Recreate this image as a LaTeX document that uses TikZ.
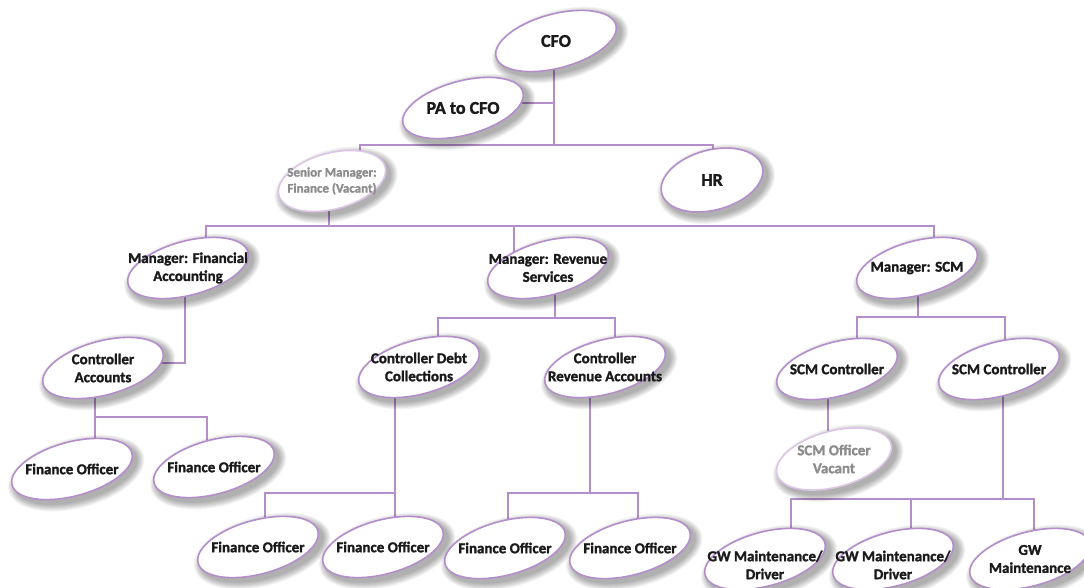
\documentclass[tikz,border=0pt]{standalone}
\usepackage{fontspec}
\setmainfont{Carlito}[BoldFeatures={FakeBold=1.6}]
\usetikzlibrary{calc}
\pgfdeclarelayer{background}
\pgfsetlayers{background,main}
\definecolor{lilac}{HTML}{B48ECB}
\definecolor{palelilac}{HTML}{DCC6E6}
\definecolor{ink}{HTML}{1A1A1A}
\definecolor{vacantink}{HTML}{8C8C8C}
\tikzset{
  link/.style={draw=lilac, line width=1.8pt},
  glow/.style={fill=black, fill opacity=0.045},
  filled ring/.style={draw=lilac, line width=1.6pt, fill=white},
  vacant ring/.style={filled ring, draw=palelilac},
  filled text/.style={text=ink, font=\bfseries\fontsize{15}{18}\selectfont, align=center, inner sep=0pt},
  vacant text/.style={filled text, text=vacantink},
  big/.style={font=\bfseries\fontsize{18}{21}\selectfont},
  small/.style={font=\bfseries\fontsize{13}{16}\selectfont},
}
% #1 extra text options, #2 name, #3 x, #4 y, #5 semi-major, #6 semi-minor, #7 kind, #8 text
\newcommand\orgnode[8][]{%
  \begin{scope}[shift={(#3,#4)}]
    % soft drop shadow, built from stacked translucent ellipses
    \foreach \g in {0,1,...,7}{
      \path[glow, rotate=15] (3,5) ellipse [x radius=#5+8-\g, y radius=#6+8-\g];
    }
    \path[#7 ring, rotate=15] (0,0) ellipse [x radius=#5, y radius=#6];
  \end{scope}
  \node[#7 text,#1] (#2) at (#3,#4) {#8};
}
\begin{document}
\begin{tikzpicture}[x=1pt, y=-1pt]
\useasboundingbox (0,0) rectangle (1084,587);
\clip (0,0) rectangle (1084,587);
\begin{pgfonlayer}{background}
  \fill[white] (0,0) rectangle (1084,587);
\end{pgfonlayer}

% executive level
\orgnode[big]{cfo}{556}{41}{62}{27}{filled}{CFO}
\orgnode[big]{pa}{463}{108}{62}{27}{filled}{PA to CFO}
\orgnode[small]{sm}{332}{181}{55}{28}{vacant}{Senior Manager:\\Finance (Vacant)}
\orgnode[big]{hr}{712}{180}{52}{30}{filled}{HR}

% managers
\orgnode{mfa}{188}{268}{62}{27}{filled}{Manager: Financial\\Accounting}
\orgnode{mrs}{548}{268}{62}{27}{filled}{Manager: Revenue\\Services}
\orgnode{mscm}{917}{268}{62}{27}{filled}{Manager: SCM}

% controllers
\orgnode{ca}{103}{368}{62}{27}{filled}{Controller\\Accounts}
\orgnode{cdc}{419}{367}{62}{27}{filled}{Controller Debt\\Collections}
\orgnode{cra}{605}{367}{62}{27}{filled}{Controller\\Revenue Accounts}
\orgnode{scma}{837}{369}{62}{27}{filled}{SCM Controller}
\orgnode{scmb}{999}{369}{62}{27}{filled}{SCM Controller}

% officers
\orgnode{foa}{72}{469}{62}{27}{filled}{Finance Officer}
\orgnode{fob}{214}{467}{62}{27}{filled}{Finance Officer}
\orgnode{sov}{834}{459}{59}{28}{vacant}{SCM Officer\\Vacant}
\orgnode{foc}{258}{547}{62}{27}{filled}{Finance Officer}
\orgnode{fod}{383}{547}{62}{27}{filled}{Finance Officer}
\orgnode{foe}{505}{548}{62}{27}{filled}{Finance Officer}
\orgnode{fof}{630}{548}{62}{27}{filled}{Finance Officer}
\orgnode[yshift=-6pt]{gwa}{765}{559}{62}{27}{filled}{GW Maintenance/\\Driver}
\orgnode[yshift=-6pt]{gwb}{893}{559}{62}{27}{filled}{GW Maintenance/\\Driver}
\orgnode{gwc}{1030}{559}{62}{27}{filled}{GW\\Maintenance}

% reporting lines
\begin{pgfonlayer}{background}
  \coordinate (busA) at (554,145);
  \coordinate (busB) at (329,226);
  \coordinate (busC) at (95,417);
  \coordinate (busD) at (555,318);
  \coordinate (busE) at (395,493);
  \coordinate (busF) at (590,493);
  \coordinate (busG) at (918,317);
  \coordinate (busH) at (1003,499);

  \draw[link] ($(cfo)+(-2,0)$) |- ($(pa)+(0,-5)$);
  \draw[link] ($(cfo)+(-2,0)$) -- (busA);
  \draw[link] ($(sm)+(28,0)$) |- (busA) -| ($(hr)+(1,0)$);

  \draw[link] ($(sm)+(-3,0)$) -- (busB);
  \draw[link] ($(mfa)+(18,0)$) |- (busB) -| ($(mscm)+(17,0)$);
  \draw[link] ($(mrs)+(-34,0)$) |- (busB);

  \draw[link] ($(mfa)+(-3,0)$) |- ($(ca)+(0,-5)$);
  \draw[link] ($(ca)+(-8,0)$) -- (busC) -- (busC |- foa);
  \draw[link] (busC) -| ($(fob)+(-7,0)$);

  \draw[link] ($(mrs)+(7,0)$) -- (busD);
  \draw[link] ($(cdc)+(19,0)$) |- (busD) -| ($(cra)+(10,0)$);

  \draw[link] ($(cdc)+(-24,0)$) -- (busE) -- (busE |- fod);
  \draw[link] (busE) -| ($(foc)+(7,0)$);

  \draw[link] ($(cra)+(-15,0)$) -- (busF);
  \draw[link] ($(foe)+(3,0)$) |- (busF) -| ($(fof)+(8,0)$);

  \draw[link] ($(mscm)+(1,0)$) -- (busG);
  \draw[link] ($(scma)+(20,0)$) |- (busG) -| ($(scmb)+(6,0)$);
  \draw[link] ($(scma)+(-9,0)$) -- ($(sov)+(-6,0)$);

  \draw[link] ($(scmb)+(4,0)$) -- (busH);
  \draw[link] ($(gwa)+(26,0)$) |- (busH) -| ($(gwc)+(4,0)$);
  \draw[link] ($(gwb)+(18,0)$) |- (busH);
\end{pgfonlayer}
\end{tikzpicture}
\end{document}
